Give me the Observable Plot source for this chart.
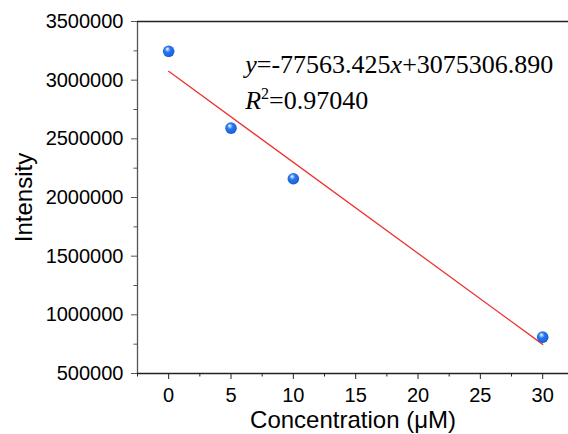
<!DOCTYPE html>
<html>
<head>
<meta charset="utf-8">
<script src="https://cdn.jsdelivr.net/npm/d3@7"></script>
<script src="https://cdn.jsdelivr.net/npm/@observablehq/plot@0.6"></script>
<style>
  html, body { margin: 0; padding: 0; background: white; }
</style>
</head>
<body>
<div id="chart"></div>
<script>
// Data
const concentration = [0, 5, 10, 30];
const intensity = [3246000, 2591000, 2160000, 810000];
// Fit reported on the chart
const fitSlope = -77563.425;
const fitIntercept = 3075306.890;
const fitR2 = 0.97040;
// Axis ticks
const yTicks = [500000, 1000000, 1500000, 2000000, 2500000, 3000000, 3500000];
const yMinorTicks = [750000, 1250000, 1750000, 2250000, 2750000, 3250000];
const xTicks = [0, 5, 10, 15, 20, 25, 30];
const xMinorTicks = [-2.5, 2.5, 7.5, 12.5, 17.5, 22.5, 27.5, 32.5];

const points = concentration.map((c, i) => ({c, v: intensity[i]}));
const fitLine = d3.extent(concentration).map(c => ({c, v: fitSlope * c + fitIntercept}));

const axisColor = "#222";
const plot = Plot.plot({
  width: 568,
  height: 434,
  marginLeft: 137,
  marginTop: 21,
  marginBottom: 61,
  marginRight: 0,
  x: {domain: [-2.5, 32.07]},
  y: {domain: [500000, 3500000]},
  style: {fontFamily: "'Liberation Sans', Arial, sans-serif", fontSize: "20px", background: "white", color: "black", overflow: "visible"},
  marks: [
    Plot.axisY(yTicks, {tickSize: 6, tickPadding: 8, tickFormat: d => String(d), label: null, stroke: "#555", fill: "black", fontSize: 20}),
    Plot.axisY(yMinorTicks, {tickSize: 3.5, tickFormat: () => "", label: null, stroke: "#555"}),
    Plot.axisX(xTicks, {tickSize: 6, tickPadding: 8, tickFormat: d => String(d), label: null, stroke: axisColor, fill: "black", fontSize: 20}),
    Plot.axisX(xMinorTicks.filter(t => t <= 32.07), {tickSize: 3.5, tickFormat: () => "", label: null, stroke: axisColor}),
    Plot.ruleX([-2.5], {stroke: "#555", strokeWidth: 1.3}),
    Plot.ruleY([500000], {stroke: axisColor, strokeWidth: 1.3}),
    Plot.ruleY([3500000], {stroke: axisColor, strokeWidth: 1.3}),
    Plot.line(fitLine, {x: "c", y: "v", stroke: "#ee3333", strokeWidth: 1.3}),
    Plot.dot(points, {x: "c", y: "v", r: 5.8, fill: "url(#ball)", stroke: "none"}),
    Plot.text(["Intensity"], {frameAnchor: "left", textAnchor: "middle", lineAnchor: "middle", dx: -113, rotate: -90, fontSize: 24, fill: "black"}),
    Plot.text(["Concentration (\u03bcM)"], {frameAnchor: "bottom", textAnchor: "middle", lineAnchor: "middle", dy: 46.5, fontSize: 24, fill: "black"})
  ]
});

const svg = d3.select(plot);
svg.insert("defs", ":first-child").html(`
  <radialGradient id="ball" cx="0.45" cy="0.4" r="0.6" fx="0.38" fy="0.3">
    <stop offset="0" stop-color="#ffffff"/>
    <stop offset="0.15" stop-color="#a8ccf8"/>
    <stop offset="0.42" stop-color="#2a76ec"/>
    <stop offset="0.85" stop-color="#1c66e0"/>
    <stop offset="1" stop-color="#1450bc"/>
  </radialGradient>`);

// Equation annotation, positioned through the plot's scales
const sx = plot.scale("x"), sy = plot.scale("y");
const eqX = sx.apply(6.18);
const serif = "'Liberation Serif', 'Times New Roman', serif";
const t1 = svg.append("text").attr("x", eqX).attr("y", sy.apply(3057000))
  .attr("text-anchor", "start")
  .attr("font-family", serif).attr("font-size", 26).attr("fill", "black");
t1.append("tspan").attr("font-style", "italic").text("y");
t1.append("tspan").text("=" + fitSlope.toFixed(3));
t1.append("tspan").attr("font-style", "italic").text("x");
t1.append("tspan").text("+" + fitIntercept.toFixed(3));

const t2 = svg.append("text").attr("x", eqX).attr("y", sy.apply(2750000))
  .attr("text-anchor", "start")
  .attr("font-family", serif).attr("font-size", 26).attr("fill", "black");
t2.append("tspan").attr("font-style", "italic").text("R");
t2.append("tspan").attr("font-size", 16).attr("dy", -10).text("2");
t2.append("tspan").attr("dy", 10).text("=" + fitR2.toFixed(5));

document.getElementById("chart").appendChild(plot);
</script>
</body>
</html>
